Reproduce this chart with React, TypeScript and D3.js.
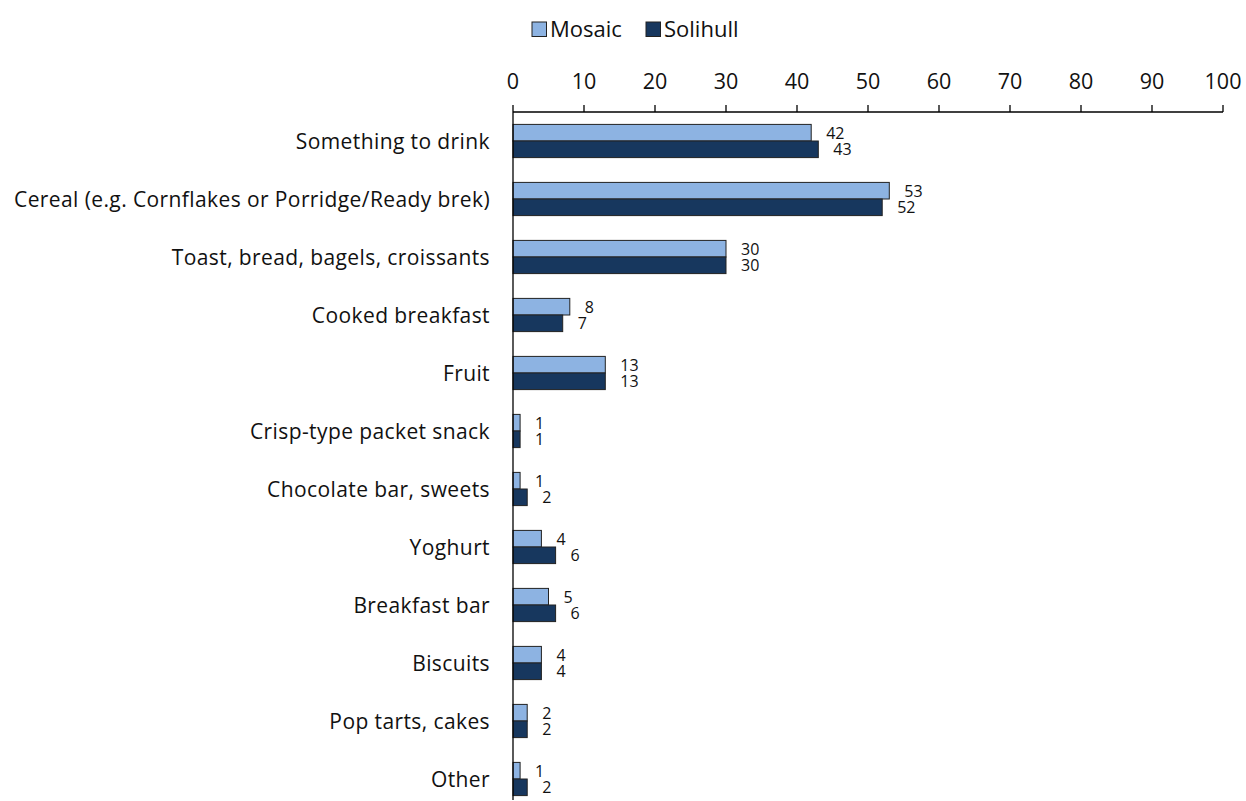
import React from "react";
import * as d3 from "d3";

const categories = [
  "Something to drink",
  "Cereal (e.g. Cornflakes or Porridge/Ready brek)",
  "Toast, bread, bagels, croissants",
  "Cooked breakfast",
  "Fruit",
  "Crisp-type packet snack",
  "Chocolate bar, sweets",
  "Yoghurt",
  "Breakfast bar",
  "Biscuits",
  "Pop tarts, cakes",
  "Other",
];
const mosaic = [42, 53, 30, 8, 13, 1, 1, 4, 5, 4, 2, 1];
const solihull = [43, 52, 30, 7, 13, 1, 2, 6, 6, 4, 2, 2];
const seriesNames = ["Mosaic", "Solihull"];
const seriesColors = ["#8DB3E2", "#17375E"];
const xTicks = [0, 10, 20, 30, 40, 50, 60, 70, 80, 90, 100];

const FONT = "'Open Sans', Lato, sans-serif";

export default function App() {
  const W = 1246;
  const H = 801;
  const x0 = 513;
  const x1 = 1223;
  const top = 112;
  const band = 58;
  const x = d3.scaleLinear().domain([0, 100]).range([x0, x1]);
  const y = d3
    .scaleBand<string>()
    .domain(categories)
    .range([top, top + band * categories.length])
    .paddingInner(0)
    .paddingOuter(0);
  const barH = 16.6;
  const series = [mosaic, solihull];

  return (
    <svg
      width={W}
      height={H}
      style={{ position: "absolute", left: 0, top: 0, background: "#fff" }}
      fontFamily={FONT}
    >
      {/* legend */}
      {seriesNames.map((n, i) => {
        const lx = [532, 646][i];
        return (
          <g key={n}>
            <rect x={lx} y={22} width={14.5} height={14.5} fill={seriesColors[i]} stroke="#222" strokeWidth={1} />
            <text x={lx + 18} y={36.5} fontSize={22} fill="#111">
              {n}
            </text>
          </g>
        );
      })}
      {/* x axis */}
      <line x1={x0} x2={x1} y1={top} y2={top} stroke="#000" strokeWidth={1.3} />
      {xTicks.map((t) => (
        <g key={t}>
          <line x1={x(t)} x2={x(t)} y1={top} y2={top - 7} stroke="#000" strokeWidth={1.3} />
          <text x={x(t)} y={89} fontSize={21.5} textAnchor="middle" fill="#111">
            {t}
          </text>
        </g>
      ))}
      {/* bars */}
      {categories.map((c, ci) => {
        const cy = (y(c) as number) + y.bandwidth() / 2;
        return (
          <g key={c}>
            <text
              x={490}
              y={cy}
              fontSize={21}
              letterSpacing={0.4}
              textAnchor="end"
              dominantBaseline="central"
              fill="#111"
            >
              {c}
            </text>
            {series.map((s, si) => {
              const by = cy - barH + si * barH;
              return (
                <g key={si}>
                  <rect
                    x={x(0)}
                    y={by}
                    width={x(s[ci]) - x(0)}
                    height={barH}
                    fill={seriesColors[si]}
                    stroke="#222"
                    strokeWidth={1}
                  />
                  <text
                    x={x(s[ci]) + 15}
                    y={by + barH / 2}
                    fontSize={16}
                    dominantBaseline="central"
                    fill="#111"
                  >
                    {s[ci]}
                  </text>
                </g>
              );
            })}
          </g>
        );
      })}
      {/* y axis line */}
      <line x1={x0} x2={x0} y1={top} y2={800} stroke="#000" strokeWidth={1.3} />
    </svg>
  );
}
